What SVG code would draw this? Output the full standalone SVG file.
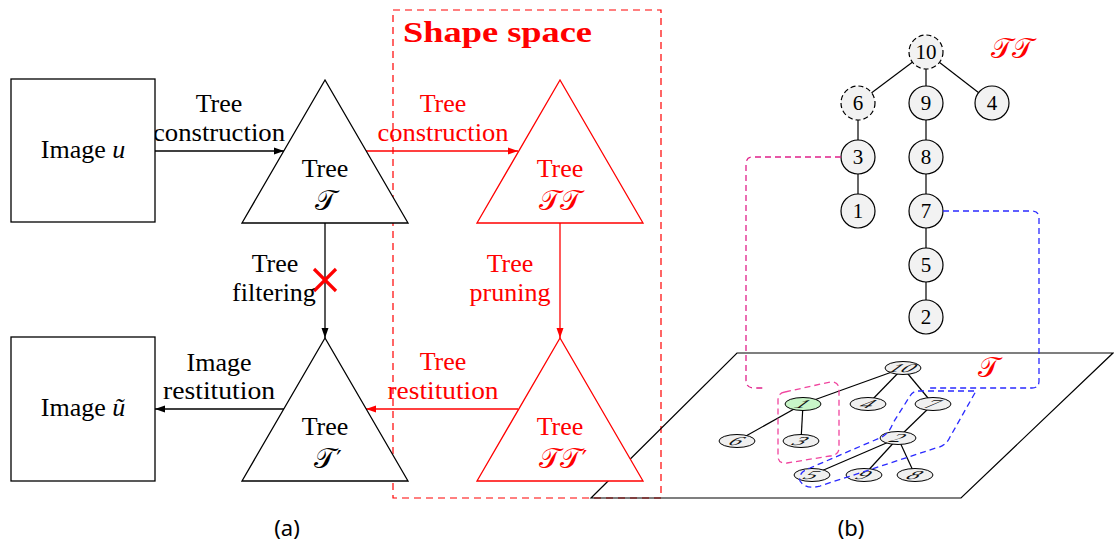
<svg xmlns="http://www.w3.org/2000/svg" width="1114" height="546" viewBox="0 0 1114 546">
<style>
.lbl{font-family:"Liberation Serif",serif;font-size:26px;text-anchor:middle;fill:#000}
.red{fill:#ff0000}
.cal{font-family:"DejaVu Sans","Noto Sans",serif;font-size:28px;text-anchor:middle}
.pr{font-family:"DejaVu Sans",sans-serif;font-size:24px}
.box{fill:#fff;stroke:#000;stroke-width:1.3}
.tri{fill:#fff;stroke:#000;stroke-width:1.3}
.trir{fill:#fff;stroke:#ff0000;stroke-width:1.3}
.arr{stroke:#000;stroke-width:1.3;fill:none;marker-end:url(#ah)}
.arrr{stroke:#ff0000;stroke-width:1.3;fill:none;marker-end:url(#ahr)}
.nd{fill:#f2f2f2;stroke:#000;stroke-width:1.2}
.ndd{fill:#f2f2f2;stroke:#000;stroke-width:1.2;stroke-dasharray:5 3}
.num{font-family:"Liberation Serif",serif;font-size:21px;text-anchor:middle;fill:#000}
.edge{stroke:#000;stroke-width:1.2;fill:none}
.pn{fill:#f0f0f0;stroke:#000;stroke-width:1}
.pnum{font-family:"Liberation Serif",serif;font-style:italic;font-size:20px;text-anchor:middle;fill:#111}
.cap{font-family:"Noto Sans",sans-serif;font-size:22px;text-anchor:middle;fill:#000}
</style>
<defs>
<marker id="ah" markerUnits="userSpaceOnUse" markerWidth="11" markerHeight="8" refX="10" refY="4" orient="auto"><path d="M0,0.5 L10,4 L0,7.5 Z" fill="#000"/></marker>
<marker id="ahr" markerUnits="userSpaceOnUse" markerWidth="11" markerHeight="8" refX="10" refY="4" orient="auto"><path d="M0,0.5 L10,4 L0,7.5 Z" fill="#ff0000"/></marker>
</defs>
<rect width="1114" height="546" fill="#fff"/>

<!-- Shape space frame -->
<g id="shape-space">
<rect x="393" y="10" width="268" height="488" fill="none" stroke="#ff0000" stroke-width="1.2" stroke-dasharray="7 5"/>
<text x="403" y="42" font-family="Liberation Serif,serif" font-weight="bold" font-size="30" fill="#ff0000" textLength="189" lengthAdjust="spacingAndGlyphs">Shape space</text>
</g>

<!-- plane (b) -->
<g id="plane">
<polygon points="591,498 737,353 1113,353 961,498" fill="none" stroke="#000" stroke-width="1.2"/>
<text x="988" y="377" class="cal red" font-size="26">𝒯</text>
</g>

<!-- Connectors -->
<g id="connectors">
<line class="arr" x1="155" y1="151" x2="284" y2="151"/>
<line class="arrr" x1="366" y1="151" x2="518" y2="151"/>
<line class="arr" x1="325" y1="223" x2="325" y2="338"/>
<line class="arrr" x1="560" y1="223" x2="560" y2="338"/>
<line class="arrr" x1="518" y1="409" x2="366" y2="409"/>
<line class="arr" x1="284" y1="409" x2="155" y2="409"/>
<g stroke="#ff0000" stroke-width="3.2">
<line x1="314" y1="269" x2="336" y2="291"/>
<line x1="336" y1="269" x2="314" y2="291"/>
</g>
<text class="lbl" x="219" y="112">Tree</text>
<text class="lbl" x="219" y="141" textLength="132" lengthAdjust="spacingAndGlyphs">construction</text>
<text class="lbl red" x="443" y="112">Tree</text>
<text class="lbl red" x="443" y="141" textLength="131" lengthAdjust="spacingAndGlyphs">construction</text>
<text class="lbl" x="275" y="272">Tree</text>
<text class="lbl" x="274" y="301">filtering</text>
<text class="lbl red" x="510" y="272">Tree</text>
<text class="lbl red" x="510" y="301">pruning</text>
<text class="lbl red" x="443" y="370">Tree</text>
<text class="lbl red" x="443" y="399" textLength="111" lengthAdjust="spacingAndGlyphs">restitution</text>
<text class="lbl" x="219" y="371">Image</text>
<text class="lbl" x="219" y="399" textLength="112" lengthAdjust="spacingAndGlyphs">restitution</text>
</g>

<!-- Left column nodes -->
<g id="image-u">
<rect class="box" x="11" y="79" width="144" height="143"/>
<text class="lbl" x="83" y="158">Image <tspan font-style="italic">u</tspan></text>
</g>
<g id="image-u-tilde">
<rect class="box" x="11" y="337" width="144" height="144"/>
<text class="lbl" x="83" y="416">Image <tspan font-style="italic">ũ</tspan></text>
</g>
<g id="tree-T">
<polygon class="tri" points="325,80 242,223 408,223"/>
<text class="lbl" x="325" y="177">Tree</text>
<text class="cal" x="325" y="210">𝒯</text>
</g>
<g id="tree-Tp">
<polygon class="tri" points="325,338 242,481 408,481"/>
<text class="lbl" x="325" y="435">Tree</text>
<text class="cal" x="328" y="468">𝒯<tspan class="pr" dx="1">′</tspan></text>
</g>
<g id="tree-TT">
<polygon class="trir" points="560,80 477,223 643,223"/>
<text class="lbl red" x="560" y="177">Tree</text>
<text class="cal red" x="560" y="210">𝒯𝒯</text>
</g>
<g id="tree-TTp">
<polygon class="trir" points="560,338 477,481 643,481"/>
<text class="lbl red" x="560" y="435">Tree</text>
<text class="cal red" x="563" y="468">𝒯𝒯<tspan class="pr" dx="1">′</tspan></text>
</g>

<!-- TT tree -->
<g id="tt-tree">
<g class="edge">
<line x1="926" y1="52" x2="858" y2="103"/>
<line x1="926" y1="52" x2="926" y2="103"/>
<line x1="926" y1="52" x2="992" y2="103"/>
<line x1="858" y1="103" x2="858" y2="211"/>
<line x1="926" y1="103" x2="926" y2="317"/>
</g>
<g id="tt-10"><circle class="ndd" cx="926" cy="52" r="17"/><text class="num" x="926" y="59">10</text></g>
<g id="tt-6"><circle class="ndd" cx="858" cy="103" r="17"/><text class="num" x="858" y="110">6</text></g>
<g id="tt-9"><circle class="nd" cx="926" cy="103" r="17"/><text class="num" x="926" y="110">9</text></g>
<g id="tt-4"><circle class="nd" cx="992" cy="103" r="17"/><text class="num" x="992" y="110">4</text></g>
<g id="tt-3"><circle class="nd" cx="858" cy="157" r="17"/><text class="num" x="858" y="164">3</text></g>
<g id="tt-8"><circle class="nd" cx="926" cy="157" r="17"/><text class="num" x="926" y="164">8</text></g>
<g id="tt-1"><circle class="nd" cx="858" cy="211" r="17"/><text class="num" x="858" y="218">1</text></g>
<g id="tt-7"><circle class="nd" cx="926" cy="211" r="17"/><text class="num" x="926" y="218">7</text></g>
<g id="tt-5"><circle class="nd" cx="926" cy="265" r="17"/><text class="num" x="926" y="272">5</text></g>
<g id="tt-2"><circle class="nd" cx="926" cy="317" r="17"/><text class="num" x="926" y="324">2</text></g>
<text class="cal red" x="1012" y="58" font-size="26">𝒯𝒯</text>
</g>

<!-- plane tree -->
<g id="plane-tree">
<g class="edge" stroke-width="1">
<line x1="903" y1="368" x2="803" y2="404"/>
<line x1="903" y1="368" x2="868" y2="404"/>
<line x1="903" y1="368" x2="933" y2="404"/>
<line x1="803" y1="404" x2="737" y2="441"/>
<line x1="803" y1="404" x2="801" y2="441"/>
<line x1="933" y1="404" x2="898" y2="438"/>
<line x1="898" y1="438" x2="812" y2="475"/>
<line x1="898" y1="438" x2="864" y2="475"/>
<line x1="898" y1="438" x2="915" y2="475"/>
</g>
<g id="p-10"><ellipse class="pn" cx="903" cy="368" rx="18" ry="6.5"/><text class="pnum" transform="translate(903,368) scale(1.25,0.6) skewX(-25)" y="7">10</text></g>
<g id="p-1"><ellipse class="pn" cx="803" cy="404" rx="18" ry="6.5" style="fill:#c8f5c8"/><text class="pnum" transform="translate(803,404) scale(1.25,0.6) skewX(-25)" y="7">1</text></g>
<g id="p-4"><ellipse class="pn" cx="868" cy="404" rx="18" ry="6.5"/><text class="pnum" transform="translate(868,404) scale(1.25,0.6) skewX(-25)" y="7">4</text></g>
<g id="p-7"><ellipse class="pn" cx="933" cy="404" rx="18" ry="6.5"/><text class="pnum" transform="translate(933,404) scale(1.25,0.6) skewX(-25)" y="7">7</text></g>
<g id="p-6"><ellipse class="pn" cx="737" cy="441" rx="18" ry="6.5"/><text class="pnum" transform="translate(737,441) scale(1.25,0.6) skewX(-25)" y="7">6</text></g>
<g id="p-3"><ellipse class="pn" cx="801" cy="441" rx="18" ry="6.5"/><text class="pnum" transform="translate(801,441) scale(1.25,0.6) skewX(-25)" y="7">3</text></g>
<g id="p-2"><ellipse class="pn" cx="898" cy="438" rx="18" ry="6.5"/><text class="pnum" transform="translate(898,438) scale(1.25,0.6) skewX(-25)" y="7">2</text></g>
<g id="p-5"><ellipse class="pn" cx="812" cy="475" rx="18" ry="6.5"/><text class="pnum" transform="translate(812,475) scale(1.25,0.6) skewX(-25)" y="7">5</text></g>
<g id="p-9"><ellipse class="pn" cx="864" cy="475" rx="18" ry="6.5"/><text class="pnum" transform="translate(864,475) scale(1.25,0.6) skewX(-25)" y="7">9</text></g>
<g id="p-8"><ellipse class="pn" cx="915" cy="475" rx="18" ry="6.5"/><text class="pnum" transform="translate(915,475) scale(1.25,0.6) skewX(-25)" y="7">8</text></g>
</g>

<!-- correspondence links -->
<g id="links" fill="none" stroke-width="1.3" stroke-dasharray="6 4">
<path d="M841,157 H753 Q746,157 746,164 V380 Q746,388 754,388 H764" stroke="#e0208a"/>
<path d="M785,392 L830,382 Q839,381 839,390 V448 Q839,455 830,456 L787,463 Q778,464 778,456 V400 Q778,393 785,392 Z" stroke="#f0449e"/>
<path d="M943,211 H1032 Q1039,211 1039,218 V381 Q1039,388 1032,388 H928" stroke="#2a2aff"/>
<path d="M918,391 L976,391 L950,437 Q946,446 936,448 L820,486 Q806,490 800,481 Q798,472 810,468 L882,437 Q890,432 893,423 L910,396 Q913,391 918,391 Z" stroke="#2a2aff"/>
</g>

<text class="cap" x="287" y="536">(a)</text>
<text class="cap" x="851" y="536">(b)</text>
</svg>
